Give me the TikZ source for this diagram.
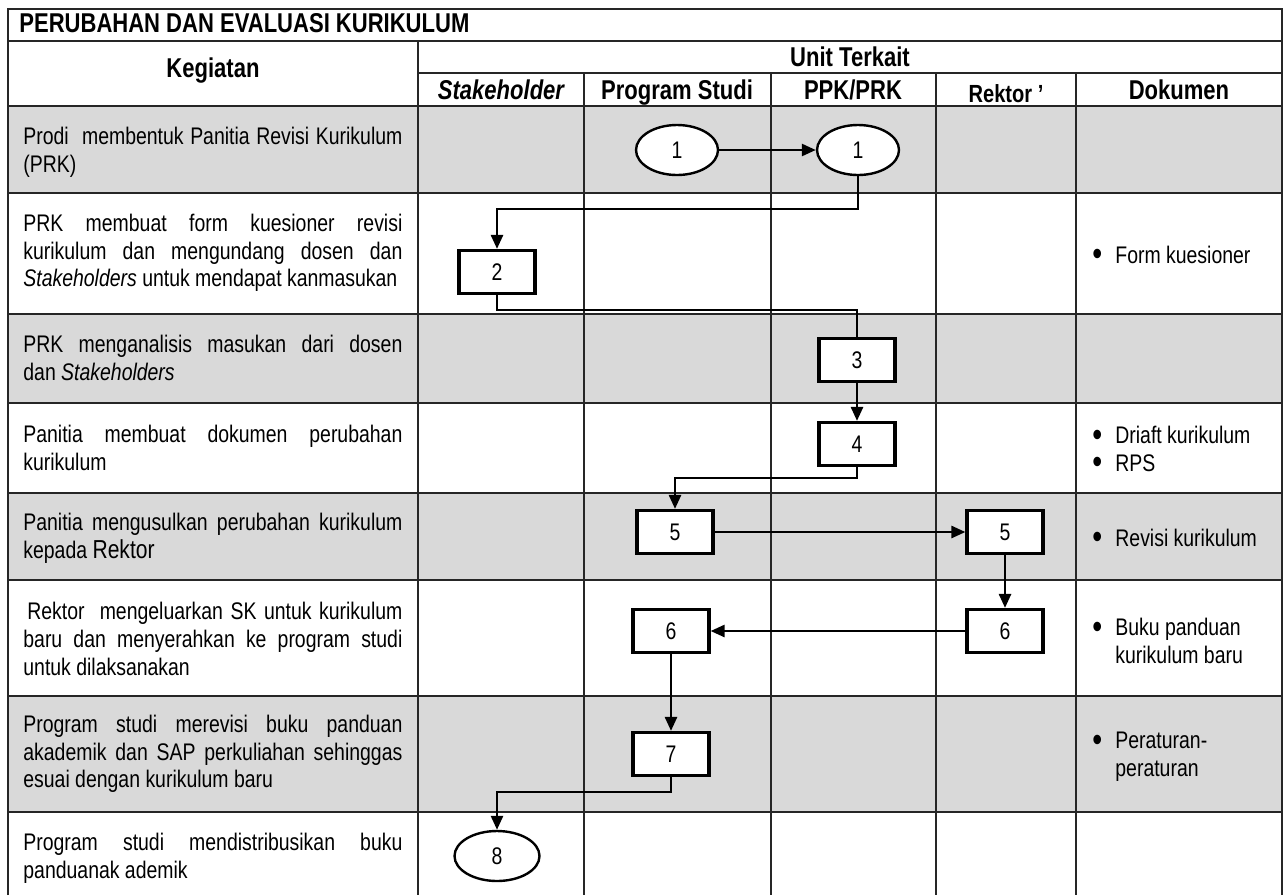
\documentclass[tikz,border=0pt]{standalone}
\usepackage{fontspec}
\setmainfont{Liberation Sans}[FakeStretch=0.81]
\usetikzlibrary{%
    arrows.meta,
    positioning,
    shapes.geometric
}
\tolerance=10000
\hbadness=10000

\newcommand{\isifont}{\fontsize{12}{13.8}\selectfont}
\newcommand{\judulfont}{\fontsize{13.6}{15}\selectfont\bfseries}
\newcommand{\butir}[1]{\makebox[11.5pt][l]{\smash{\raisebox{-0.1em}{\scalebox{1.45}{\textbullet}}}}#1}

\tikzset{headarrow/.style = {line width=1.3pt, -{Triangle[length=7pt,width=6pt]}}}
\tikzset{flowline/.style = {line width=1.3pt}}
\tikzset{tabline/.style = {line width=0.85pt, black!85}}
\tikzset{rowfill/.style = {fill=black!15}}
\tikzset{kepala/.style = {font=\judulfont, inner sep=0pt, anchor=base}}
\tikzset{kegiatan/.style = {anchor=west, text width=189.5pt, align=justify, inner sep=0pt, font=\isifont}}
\tikzset{dokumen/.style = {anchor=west, align=left, inner sep=0pt, font=\isifont}}
\tikzset{proses/.style = {draw, line width=1.6pt, fill=white, minimum width=38pt, minimum height=21.5pt, inner sep=0pt, font=\isifont}}
\tikzset{terminal/.style = {ellipse, draw, line width=1.2pt, fill=white, minimum width=41pt, minimum height=25pt, inner sep=0pt, font=\isifont}}

\begin{document}
\begin{tikzpicture}[x=0.5pt, y=-0.5pt]
    \useasboundingbox (0,0) rectangle (1283,895);
    % shaded rows
    \foreach \Top/\Bot in {106/193, 314/403, 493/580, 696/812}
        \fill[rowfill] (8,\Top) rectangle (1282,\Bot);
    % table rules
    \draw[tabline] (8,895) -- (8,9) -- (1282,9) -- (1282,895);
    \foreach \y in {41,106,193,314,403,493,580,696,812}
        \draw[tabline] (8,\y) -- (1282,\y);
    \draw[tabline] (418,73) -- (1282,73);
    \draw[tabline] (418,41) -- (418,895);
    \foreach \x in {584,771,936,1076}
        \draw[tabline] (\x,73) -- (\x,895);

    % headings
    \node[kepala, anchor=base west] (judul) at (19,32) {PERUBAHAN DAN EVALUASI KURIKULUM};
    \node[kepala] (kegiatan) at (213,77) {Kegiatan};
    \node[kepala] (unit) at (850,66) {Unit Terkait};
    \node[kepala] (stakeholder) at (501,99) {\itshape Stakeholder};
    \node[kepala] (prodi) at (677,99) {Program Studi};
    \node[kepala] (ppk) at (853,99) {PPK/PRK};
    \node[kepala, font=\fontsize{12.4}{14}\selectfont\bfseries] (rektor) at (1006,102) {Rektor '};
    \node[kepala] (dokumen) at (1179,99) {Dokumen};

    % activities
    \node[kegiatan] (keg-1) at (23,152) {Prodi\ \ membentuk Panitia Revisi Kurikulum\linebreak (PRK)};
    \node[kegiatan] (keg-2) at (23,253) {PRK membuat form kuesioner revisi\linebreak kurikulum dan mengundang dosen dan\linebreak \textit{Stakeholders} untuk mendapat kanmasukan};
    \node[kegiatan] (keg-3) at (23,358) {PRK menganalisis masukan dari dosen\linebreak dan \textit{Stakeholders}};
    \node[kegiatan] (keg-4) at (23,448) {Panitia membuat dokumen perubahan\linebreak kurikulum};
    \node[kegiatan] (keg-5) at (23,538) {Panitia mengusulkan perubahan kurikulum\linebreak kepada {\fontsize{13}{13.8}\selectfont Rektor}};
    \node[kegiatan] (keg-6) at (23,639) {\hspace*{2pt}Rektor\ \ mengeluarkan SK untuk kurikulum\linebreak baru dan menyerahkan ke program studi\linebreak untuk dilaksanakan};
    \node[kegiatan] (keg-7) at (23,754) {Program studi merevisi buku panduan\linebreak akademik dan SAP perkuliahan sehinggas\linebreak esuai dengan kurikulum baru};
    \node[kegiatan] (keg-8) at (23,858) {Program studi mendistribusikan buku\linebreak panduanak ademik};

    % documents
    \node[dokumen] (dok-2) at (1092,255) {\butir{Form kuesioner}};
    \node[dokumen] (dok-4) at (1092,449) {\butir{Driaft kurikulum}\\ \butir{RPS}};
    \node[dokumen] (dok-5) at (1092,538) {\butir{Revisi kurikulum}};
    \node[dokumen] (dok-6) at (1092,641) {\butir{Buku panduan}\\ \hspace*{11.5pt}kurikulum baru};
    \node[dokumen] (dok-7) at (1092,757) {\butir{Peraturan-}\\ \hspace*{11.5pt}peraturan};

    % flow
    \node[terminal] (prodi-1) at (677,150) {1};
    \node[terminal] (ppk-1) at (858,150) {1};
    \node[proses] (sh-2) at (497,272) {2};
    \node[proses] (ppk-3) at (857,360) {3};
    \node[proses] (ppk-4) at (857,444) {4};
    \node[proses] (prodi-5) at (675,532) {5};
    \node[proses] (rek-5) at (1005,532) {5};
    \node[proses] (rek-6) at (1005,631) {6};
    \node[proses] (prodi-6) at (671,631) {6};
    \node[proses] (prodi-7) at (671,754) {7};
    \node[terminal, minimum width=42.5pt] (sh-8) at (497,856) {8};

    \coordinate (tekuk-1) at (497,209);
    \coordinate (tekuk-2) at (857,310);
    \coordinate (tekuk-3) at (675,478);
    \coordinate (tekuk-4) at (497,792);

    \foreach \Source/\Target in {%
        prodi-1/ppk-1,
        ppk-3/ppk-4,
        prodi-5/rek-5,
        rek-5/rek-6,
        rek-6/prodi-6,
        prodi-6/prodi-7}
            \draw[headarrow] (\Source) -- (\Target);
    \draw[headarrow] (ppk-1) |- (tekuk-1) -- (sh-2);
    \draw[flowline] (sh-2) |- (tekuk-2) -- (ppk-3);
    \draw[headarrow] (ppk-4) |- (tekuk-3) -- (prodi-5);
    \draw[headarrow] (prodi-7) |- (tekuk-4) -- (sh-8);
\end{tikzpicture}
\end{document}
